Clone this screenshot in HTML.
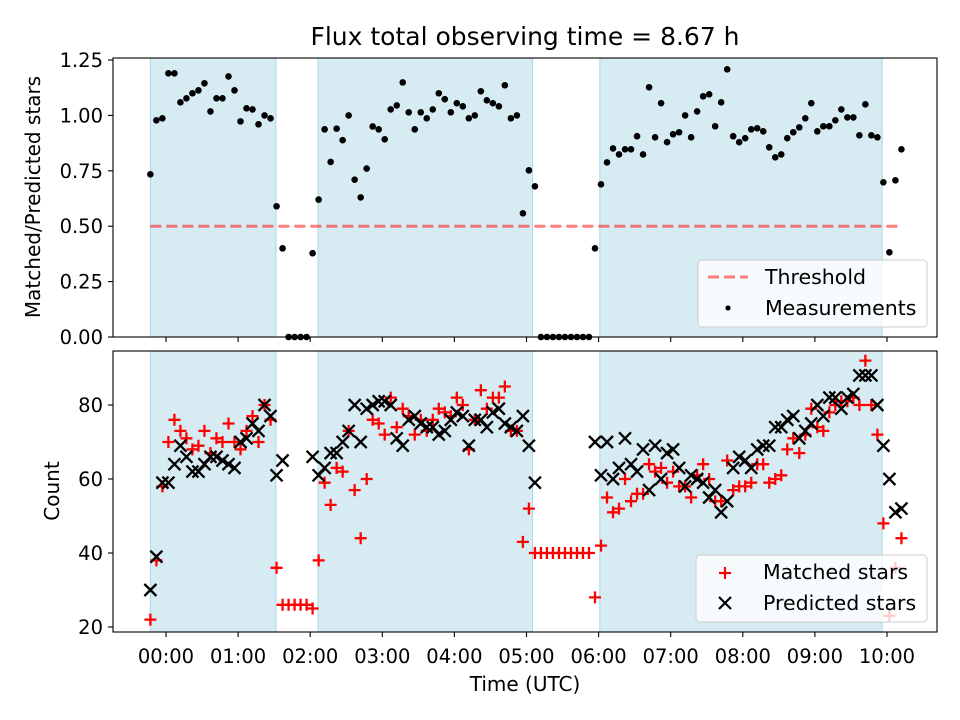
<!DOCTYPE html>
<html><head><meta charset="utf-8"><style>
html,body{margin:0;padding:0;background:#fff;}
svg{display:block;font-family:"DejaVu Sans","Liberation Sans",sans-serif;}
</style></head><body>
<svg id="chart" width="960" height="720" viewBox="0 0 960 720" xmlns="http://www.w3.org/2000/svg">
<text x="525" y="45" font-size="25" text-anchor="middle" fill="#000">Flux total observing time = 8.67 h</text>
<text x="0" y="0" font-size="20" text-anchor="middle" transform="translate(40,197) rotate(-90)">Matched/Predicted stars</text>
<text x="0" y="0" font-size="20" text-anchor="middle" transform="translate(59,491) rotate(-90)">Count</text>
<text x="525" y="691" font-size="20" text-anchor="middle">Time (UTC)</text>
<g id="topPanel"></g>
<g id="botPanel"></g>
</svg>
<script>
// data
const startMinute = -13;
const stepMinutes = 5;
const ratioValues = [0.734,0.978,0.987,1.19,1.19,1.059,1.077,1.10,1.113,1.145,1.018,1.077,1.077,1.176,1.113,0.973,1.032,1.027,0.96,1.0,0.987,0.59,0.40,0,0,0,0,0.378,0.62,0.937,0.79,0.94,0.888,1.0,0.71,0.63,0.76,0.95,0.937,0.892,1.027,1.045,1.149,1.014,0.937,1.014,0.987,1.027,1.10,1.073,1.014,1.055,1.041,0.987,1.0,1.109,1.068,1.055,1.041,1.136,0.987,1.0,0.558,0.752,0.68,0,0,0,0,0,0,0,0,0,0.40,0.689,0.788,0.851,0.824,0.847,0.847,0.906,0.824,1.127,0.901,1.055,0.879,0.915,0.924,1.0,0.901,1.018,1.086,1.095,0.951,1.059,1.208,0.906,0.879,0.897,0.937,0.942,0.928,0.856,0.811,0.824,0.897,0.924,0.946,0.987,1.055,0.928,0.951,0.951,0.978,1.027,0.991,0.991,0.91,1.05,0.91,0.901,0.698,0.382,0.707,0.847];
const matchedStars = [22,38,58,70,76,73,71,68,69,73,67,71,70,75,70,68,73,77,70,80,76,36,26,26,26,26,26,25,38,59,53,63,62,73,57,44,60,76,75,72,82,74,79,77,72,76,73,76,79,78,77,82,80,68,76,84,79,82,82,85,73,73,43,52,40,40,40,40,40,40,40,40,40,40,28,42,55,51,52,60,54,56,56,64,62,63,59,62,58,58,55,61,64,60,54,54,65,57,58,58,59,64,64,59,60,61,68,71,67,72,79,74,73,78,80,81,81,82,80,92,80,72,48,23,36,44];
const predictedStars = [30,39,59,59,64,69,66,62,62,64,66,66,65,64,63,70,71,75,73,80,77,61,65,null,null,null,null,66,61,63,67,67,70,73,80,70,79,80,81,81,80,71,69,76,77,75,74,74,72,73,76,78,77,69,76,76,74,78,79,75,74,73,77,69,59,null,null,null,null,null,null,null,null,null,70,61,70,60,63,71,64,62,68,57,69,60,67,68,63,58,61,60,59,55,57,51,54,63,66,65,63,68,69,69,74,74,76,77,71,73,75,80,77,82,82,79,82,83,88,88,88,80,69,60,51,52];
const thresholdValue = 0.5;
const observingSpans = [[-13,91.5],[126.5,305],[361,596]];
const xTickHours = [0,1,2,3,4,5,6,7,8,9,10];
const xTickLabels = ["00:00","01:00","02:00","03:00","04:00","05:00","06:00","07:00","08:00","09:00","10:00"];
const topTicks = [0,0.25,0.5,0.75,1.0,1.25];
const topTickLabels = ["0.00","0.25","0.50","0.75","1.00","1.25"];
const botTicks = [20,40,60,80];
const botTickLabels = ["20","40","60","80"];

const NS="http://www.w3.org/2000/svg";
const L=113,R=937;
const xs = m => 166 + m/60*72.1;
const yTop = v => 337 - v*221.6;
const yBot = v => 627 - (v-20)*3.7;
function mk(parent,tag,attrs){const e=document.createElementNS(NS,tag);for(const k in attrs)e.setAttribute(k,attrs[k]);parent.appendChild(e);return e;}
const topG=document.getElementById('topPanel'), botG=document.getElementById('botPanel');
const times = ratioValues.map((_,i)=>startMinute+i*stepMinutes);

function panel(g,y0,y1){
  observingSpans.forEach(s=>{
    const r=mk(g,'rect',{x:xs(s[0]),y:y0,width:xs(s[1])-xs(s[0]),height:y1-y0,fill:'#add8e6','fill-opacity':0.5,stroke:'#add8e6','stroke-width':1});
    
    
  });
}
panel(topG,58,337);
panel(botG,351,632);

const th=mk(topG,'line',{x1:xs(times[0]),x2:xs(times[times.length-1]),y1:yTop(thresholdValue),y2:yTop(thresholdValue),stroke:'#ff0000','stroke-opacity':0.5,'stroke-width':3,'stroke-dasharray':'11,5'});



ratioValues.forEach((v,i)=>{
  const c=mk(topG,'circle',{cx:xs(times[i]),cy:yTop(v),r:3.3,fill:'#000'});
  
  
});
matchedStars.forEach((v,i)=>{
  if(v==null)return;
  const x=xs(times[i]),y=yBot(v);
  const p=mk(botG,'path',{d:`M${x-6} ${y}H${x+6}M${x} ${y-6}V${y+6}`,stroke:'#ff0000','stroke-width':2.3,fill:'none'});
  
  
});
predictedStars.forEach((v,i)=>{
  if(v==null)return;
  const x=xs(times[i]),y=yBot(v);
  const p=mk(botG,'path',{d:`M${x-6} ${y-6}L${x+6} ${y+6}M${x-6} ${y+6}L${x+6} ${y-6}`,stroke:'#000','stroke-width':2.3,fill:'none'});
  
  
});

function frame(g,y0,y1){
  const f=mk(g,'rect',{x:L,y:y0,width:R-L,height:y1-y0,fill:'none',stroke:'#000','stroke-width':1.1});
  
  
}
frame(topG,58,337); frame(botG,351,632);

xTickHours.forEach((h,i)=>{
  const x=xs(h*60);
  mk(topG,'line',{x1:x,x2:x,y1:337,y2:342,stroke:'#000','stroke-width':1.1});
  mk(botG,'line',{x1:x,x2:x,y1:632,y2:637,stroke:'#000','stroke-width':1.1});
  const t=mk(botG,'text',{x:x,y:663,'font-size':19.5,'text-anchor':'middle'});
  t.textContent=xTickLabels[i];
  
  
});
topTicks.forEach((v,i)=>{
  const y=yTop(v);
  mk(topG,'line',{x1:108,x2:113,y1:y,y2:y,stroke:'#000','stroke-width':1.1});
  const t=mk(topG,'text',{x:103,y:y+7,'font-size':19.5,'text-anchor':'end'});
  t.textContent=topTickLabels[i];
  
  
});
botTicks.forEach((v,i)=>{
  const y=yBot(v);
  mk(botG,'line',{x1:108,x2:113,y1:y,y2:y,stroke:'#000','stroke-width':1.1});
  const t=mk(botG,'text',{x:103,y:y+7,'font-size':19.5,'text-anchor':'end'});
  t.textContent=botTickLabels[i];
  
  
});

const lg1=mk(topG,'g',{});


mk(lg1,'rect',{x:698,y:260,width:229,height:67,rx:4,fill:'#fff','fill-opacity':0.8,stroke:'#cccccc','stroke-width':1});
mk(lg1,'line',{x1:708,x2:748,y1:277,y2:277,stroke:'#ff0000','stroke-opacity':0.5,'stroke-width':3,'stroke-dasharray':'11,5'});
let t=mk(lg1,'text',{x:765,y:284,'font-size':20.5});t.textContent='Threshold';
mk(lg1,'circle',{cx:728,cy:308,r:2.6,fill:'#000'});
t=mk(lg1,'text',{x:765,y:315,'font-size':20.5});t.textContent='Measurements';

const lg2=mk(botG,'g',{});


mk(lg2,'rect',{x:696,y:555,width:231,height:67,rx:4,fill:'#fff','fill-opacity':0.8,stroke:'#cccccc','stroke-width':1});
mk(lg2,'path',{d:'M719 573H731M725 567V579',stroke:'#ff0000','stroke-width':2.2,fill:'none'});
t=mk(lg2,'text',{x:763,y:579,'font-size':20.5});t.textContent='Matched stars';
mk(lg2,'path',{d:'M719 597L731 609M719 609L731 597',stroke:'#000','stroke-width':2.2,fill:'none'});
t=mk(lg2,'text',{x:763,y:610,'font-size':20.5});t.textContent='Predicted stars';
</script>
</body></html>
